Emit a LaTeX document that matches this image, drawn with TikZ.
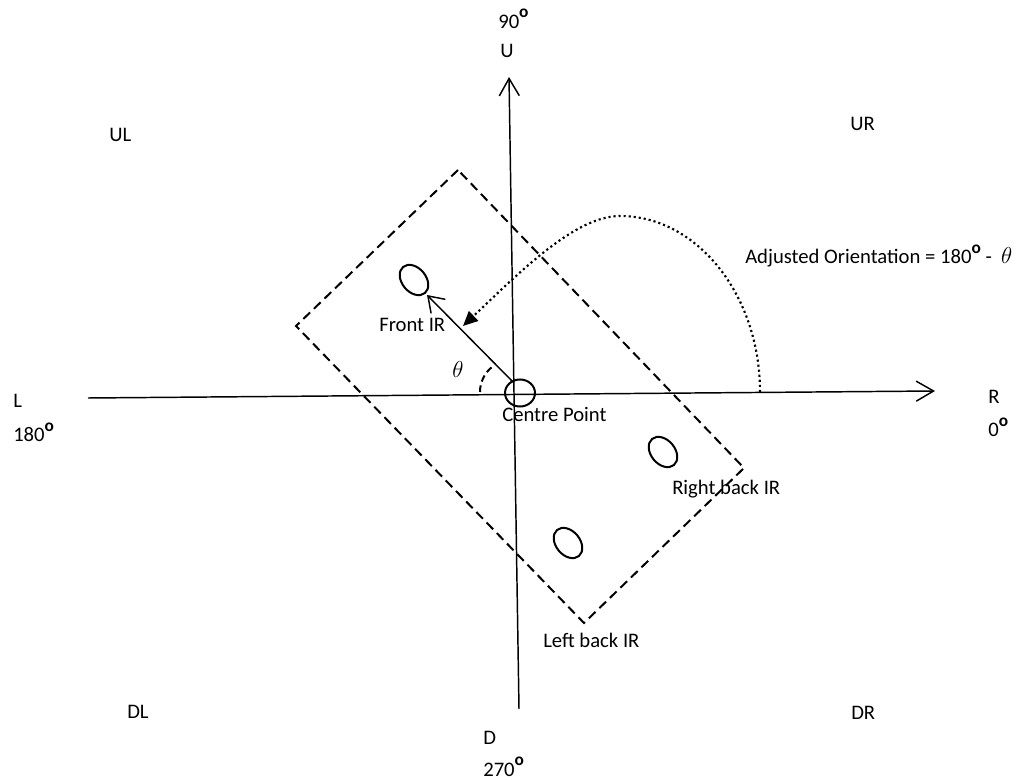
\documentclass[tikz,border=0pt]{standalone}
\usepackage{amsmath}
\usepackage{fontspec}
\setmainfont{Carlito}
\usetikzlibrary{arrows.meta}
\newcommand\degsym{\raisebox{0.52em}{\fontsize{13pt}{13pt}\selectfont\bfseries o}}
\newcommand\thsym{{\fontsize{18pt}{18pt}\selectfont$\theta$}}
\begin{document}
\begin{tikzpicture}[x=0.75pt,y=-0.75pt,
  lbl/.style={anchor=base west,inner sep=0pt,font=\fontsize{15.5pt}{18pt}\selectfont},
  axis/.style={line width=1.1pt,-{Straight Barb[length=13pt,width=15pt,line width=1.1pt]}},
  body/.style={line width=1.5pt,dash pattern=on 7pt off 4pt},
  ir/.style={line width=1.5pt},
  facing/.style={line width=1.1pt,-{Straight Barb[length=11pt,width=15pt,line width=1.1pt]}},
  orient/.style={line width=1.6pt,dash pattern=on 1.6pt off 2.2pt,-{Triangle[length=11pt,width=10pt]}},
  thetaarc/.style={line width=1.5pt,dash pattern=on 5pt off 3pt}]
\useasboundingbox (0,0) rectangle (1025,780);
% axes
\coordinate (Dend) at (519,709);
\coordinate (Utip) at (509,77);
\coordinate (Lend) at (88,398);
\coordinate (Rtip) at (935,391);
\draw[axis] (Dend) -- (Utip);
\draw[axis] (Lend) -- (Rtip);
% robot body
\coordinate (bT) at (458,170);
\coordinate (bL) at (296,326);
\coordinate (bB) at (584,623);
\coordinate (bR) at (744,468);
\draw[body] (bT) -- (bL) -- (bB) -- (bR) -- cycle;
% IR sensors and centre
\coordinate (fir) at (414,280);
\coordinate (rir) at (663,452);
\coordinate (lir) at (568,543);
\coordinate (cp) at (520,393);
\draw[ir, rotate around={40:(fir)}] (fir) ellipse [x radius=12, y radius=17];
\draw[ir, rotate around={40:(rir)}] (rir) ellipse [x radius=12, y radius=17];
\draw[ir, rotate around={40:(lir)}] (lir) ellipse [x radius=12, y radius=17];
\draw[ir] (cp) ellipse [x radius=15, y radius=13.5];
% facing arrow
\coordinate (fstart) at (513,382);
\coordinate (ftip) at (427,295);
\draw[facing] (fstart) -- (ftip);
% theta arc
\coordinate (ac) at (512,392);
\draw[thetaarc] (ac) ++(-32,0) arc [start angle=180, end angle=235, radius=32];
% adjusted orientation curve
\coordinate (ostart) at (760,392);
\coordinate (otop) at (620,216);
\coordinate (otip) at (463,326);
\draw[orient] (ostart) .. controls (760,295) and (697,216) .. (otop)
  .. controls (575,216) and (520,272) .. (otip);
% labels
\node[lbl] (n90) at (498,28.5) {90\degsym};
\node[lbl] (nU) at (500,58) {U};
\node[lbl] (nUL) at (109,142) {UL};
\node[lbl] (nUR) at (850,131) {UR};
\node[lbl] (nL) at (13,408) {L};
\node[lbl] (n180) at (13,442) {180\degsym};
\node[lbl] (nR) at (988,404) {R};
\node[lbl] (n0) at (988,437) {0\degsym};
\node[lbl] (nDL) at (127,718) {DL};
\node[lbl] (nDR) at (851,719) {DR};
\node[lbl] (nD) at (483,744) {D};
\node[lbl] (n270) at (483,776) {270\degsym};
\node[lbl] (nfront) at (379,332) {Front IR};
\node[lbl] (ncentre) at (502,422) {Centre Point};
\node[lbl] (nright) at (672,494) {Right back IR};
\node[lbl] (nleft) at (543,647) {Left back IR};
\node[lbl] (ntheta) at (452,378) {\thsym};
\node[lbl] (nadj) at (745,264) {Adjusted Orientation = 180\degsym\ -\ \ \thsym};
\end{tikzpicture}
\end{document}
